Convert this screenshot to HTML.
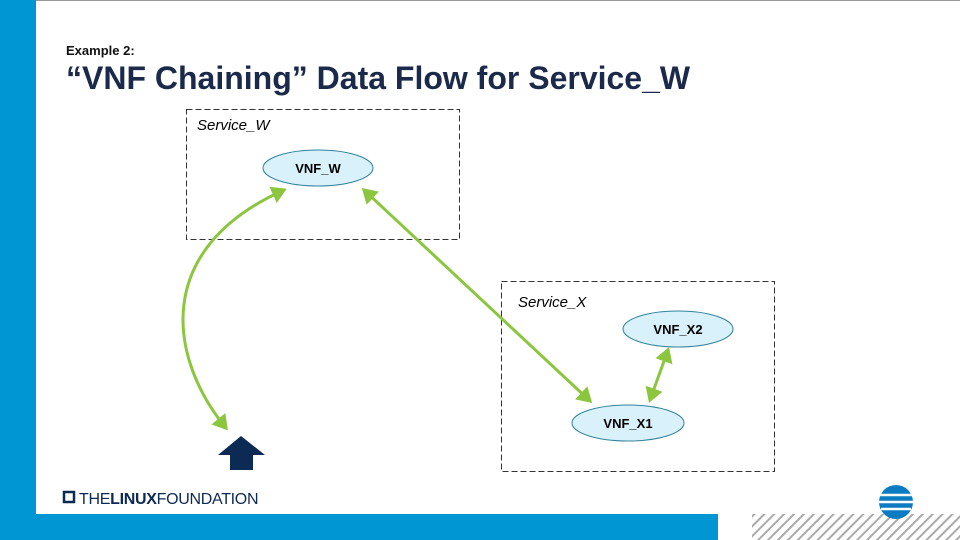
<!DOCTYPE html>
<html><head><style>
body{margin:0;width:960px;height:540px;position:relative;background:#fff;overflow:hidden;font-family:"Liberation Sans",sans-serif}
.abs{position:absolute}
</style></head><body>
<div class="abs" style="left:0;top:0;width:960px;height:1px;background:#999"></div>
<div class="abs" style="left:0;top:0;width:36px;height:540px;background:#0095d3"></div>
<div class="abs" style="left:0;top:514px;width:718px;height:26px;background:#0095d3"></div>
<svg class="abs" style="left:0;top:0" width="960" height="540">
<defs>
<pattern id="h" width="7" height="7" patternUnits="userSpaceOnUse" patternTransform="rotate(45)">
<rect width="7" height="7" fill="#fff"/><rect width="2" height="7" fill="#aaa"/></pattern>
<marker id="a" markerWidth="6" markerHeight="6" refX="4" refY="3" orient="auto-start-reverse" markerUnits="strokeWidth">
<path d="M0,0 L5,3 L0,6 z" fill="#8cc63f"/></marker>
</defs>
<rect x="752" y="514" width="208" height="26" fill="url(#h)"/>
<rect x="186.5" y="109.5" width="273" height="130" fill="none" stroke="#333" stroke-dasharray="6,3"/>
<rect x="501.5" y="281.5" width="273" height="190" fill="none" stroke="#333" stroke-dasharray="6,3"/>
<path d="M284,190 C150,250 170,360 226,428" fill="none" stroke="#8cc63f" stroke-width="3" marker-start="url(#a)" marker-end="url(#a)"/>
<line x1="364" y1="190" x2="590" y2="401" stroke="#8cc63f" stroke-width="3" marker-start="url(#a)" marker-end="url(#a)"/>
<line x1="668" y1="350" x2="650" y2="400" stroke="#8cc63f" stroke-width="3" marker-start="url(#a)" marker-end="url(#a)"/>
<ellipse cx="318" cy="168" rx="55" ry="18" fill="#d9f1fb" stroke="#31849b"/>
<ellipse cx="678" cy="329" rx="55" ry="18" fill="#d9f1fb" stroke="#31849b"/>
<ellipse cx="628" cy="423" rx="56" ry="18" fill="#d9f1fb" stroke="#31849b"/>
<text x="318" y="173" font-size="13" text-anchor="middle" font-family="Liberation Sans" font-weight="bold">VNF_W</text>
<text x="678" y="334" font-size="13" text-anchor="middle" font-family="Liberation Sans" font-weight="bold">VNF_X2</text>
<text x="628" y="428" font-size="13" text-anchor="middle" font-family="Liberation Sans" font-weight="bold">VNF_X1</text>
<text x="197" y="130" font-size="15" font-style="italic" font-family="Liberation Sans">Service_W</text>
<text x="518" y="307" font-size="15" font-style="italic" font-family="Liberation Sans">Service_X</text>
<path d="M218,455 L241,436 L265,455 L253,455 L253,470 L230,470 L230,455 z" fill="#0d2a55"/>
<rect x="64" y="492" width="10" height="10" fill="none" stroke="#0d2a55" stroke-width="2.5"/>
<text x="79" y="504" font-size="16" fill="#0d2a55" font-family="Liberation Sans" letter-spacing="-0.3">THE<tspan font-weight="bold">LINUX</tspan>FOUNDATION</text>
<circle cx="896" cy="502" r="17" fill="#0b7cc1"/>
<path d="M880,495 H912 M879,502 H913 M881,509 H911" stroke="#fff" stroke-width="2.5"/>
</svg>
<div class="abs" style="left:66px;top:43px;font-size:13px;color:#111;font-weight:bold">Example 2:</div>
<div class="abs" style="left:66px;top:60px;font-size:32px;color:#1b2a4a;font-weight:bold">“VNF Chaining” Data Flow for Service_W</div>
</body></html>
